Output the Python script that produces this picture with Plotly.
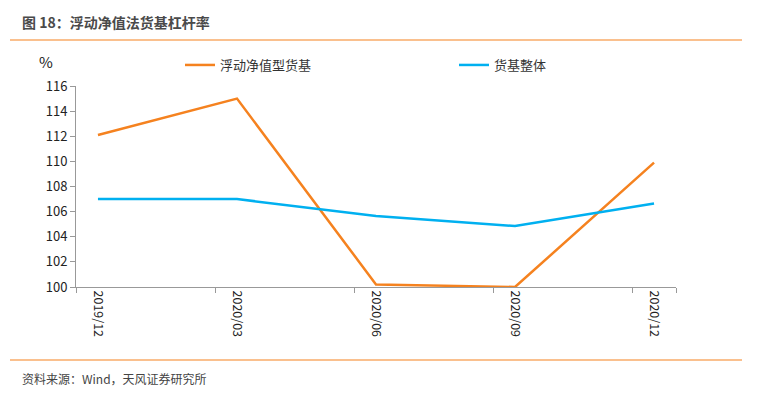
import plotly.graph_objects as go

categories = ["2019/12", "2020/03", "2020/06", "2020/09", "2020/12"]
floating_nav = [112.1, 115.0, 100.2, 100.0, 109.9]
mmf_total = [107.0, 107.0, 105.65, 104.85, 106.65]
y_ticks = [100, 102, 104, 106, 108, 110, 112, 114, 116]

idx = list(range(len(categories)))
off = 0.158

fig = go.Figure()
fig.add_trace(go.Scatter(x=idx, y=floating_nav, mode="lines", name="浮动净值型货基",
                         line=dict(color="#F5821F", width=2.5)))
fig.add_trace(go.Scatter(x=idx, y=mmf_total, mode="lines", name="货基整体",
                         line=dict(color="#00B0F0", width=2.5)))
# invisible trace to enable tick overlay axis
fig.add_trace(go.Scatter(x=[i - off for i in idx], y=[None]*len(idx), xaxis="x2",
                         showlegend=False, hoverinfo="skip"))

font = "Noto Sans CJK SC, Microsoft YaHei, sans-serif"
fig.update_layout(
    width=757, height=398,
    margin=dict(l=76, r=81, t=86, b=111, autoexpand=False),
    paper_bgcolor="white", plot_bgcolor="white",
    font=dict(family=font, size=12, color="#222"),
    showlegend=True,
    legend=dict(orientation="h", xref="container", yref="container",
                x=180/757, xanchor="left", y=1 - 65/398, yanchor="middle",
                entrywidth=229, entrywidthmode="pixels",
                font=dict(size=13, color="#333"), bgcolor="rgba(0,0,0,0)",
                itemwidth=30, tracegroupgap=0),
    xaxis=dict(range=[-off, len(idx) - 1 + off], tickmode="array", tickvals=idx,
               ticktext=categories, tickangle=90, ticks="", showgrid=False,
               zeroline=False, showline=True, linecolor="#999", linewidth=1,
               automargin=False, tickfont=dict(size=12.5, color="#222")),
    xaxis2=dict(range=[-off, len(idx) - 1 + off], overlaying="x", tickmode="array",
                tickvals=[i - off for i in idx] + [len(idx) - 1 + off], ticktext=[""] * (len(idx) + 1),
                ticks="outside", ticklen=5, tickcolor="#999", showgrid=False,
                zeroline=False, showline=False, side="bottom", anchor="y", automargin=False),
    yaxis=dict(range=[100, 116], tickmode="array", tickvals=y_ticks,
               ticks="outside", ticklen=5, tickcolor="#999", showgrid=False,
               zeroline=False, showline=True, linecolor="#999", linewidth=1,
               automargin=False, tickfont=dict(size=13, color="#222")),
)

fig.add_annotation(text="<b>图 18：浮动净值法货基杠杆率</b>", xref="paper", yref="paper",
                   x=-56/600, y=1 + (86 - 22) / 201, xanchor="left", yanchor="middle",
                   showarrow=False, font=dict(size=14, color="#4a4a4a"))
fig.add_annotation(text="%", xref="paper", yref="paper",
                   x=(46 - 76)/600, y=1 + (86 - 61) / 201, xanchor="center", yanchor="middle",
                   showarrow=False, font=dict(size=15, color="#222"))
fig.add_annotation(text="资料来源：Wind，天风证券研究所", xref="paper", yref="paper",
                   x=(20 - 76)/600, y=(287 - 378) / 201, xanchor="left", yanchor="middle",
                   showarrow=False, font=dict(size=12, color="#444"))
fig.add_shape(type="line", xref="paper", yref="paper",
              x0=(10 - 76)/600, x1=(742 - 76)/600, y0=1 + (86 - 40)/201, y1=1 + (86 - 40)/201,
              line=dict(color="#F5821F", width=1.2))
fig.add_shape(type="line", xref="paper", yref="paper",
              x0=(10 - 76)/600, x1=(742 - 76)/600, y0=(287 - 360)/201, y1=(287 - 360)/201,
              line=dict(color="#F5821F", width=1.2))

fig.write_html("out.html", config={"displayModeBar": False},
               post_script="document.body.style.margin='0px';")
